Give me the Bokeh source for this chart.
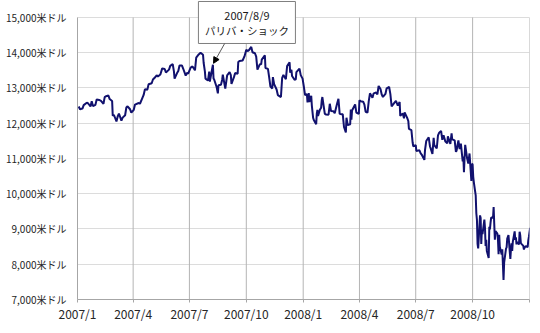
import pandas as pd
from bokeh.plotting import figure
from bokeh.models import FixedTicker, Label, Arrow, NormalHead, ColumnDataSource, Range1d
from bokeh.embed import file_html
from bokeh.resources import INLINE

# ---- data: DJIA closing values (米ドル) ----
dates = [
    "2007-01-03","2007-01-05","2007-01-09","2007-01-11","2007-01-16","2007-01-18","2007-01-22","2007-01-24",
    "2007-01-26","2007-01-30","2007-02-01","2007-02-05","2007-02-08","2007-02-12","2007-02-14","2007-02-16",
    "2007-02-20","2007-02-22","2007-02-26","2007-02-27","2007-03-01","2007-03-05","2007-03-07","2007-03-09",
    "2007-03-13","2007-03-15","2007-03-19","2007-03-21","2007-03-23","2007-03-27","2007-03-29","2007-04-02",
    "2007-04-04","2007-04-10","2007-04-12","2007-04-16","2007-04-18","2007-04-20","2007-04-24","2007-04-26",
    "2007-05-01","2007-05-03","2007-05-07","2007-05-09","2007-05-11","2007-05-15","2007-05-18","2007-05-22",
    "2007-05-24","2007-05-29","2007-05-31","2007-06-04","2007-06-06","2007-06-07","2007-06-11","2007-06-13",
    "2007-06-15","2007-06-19","2007-06-21","2007-06-25","2007-06-27","2007-06-29","2007-07-03","2007-07-06",
    "2007-07-10","2007-07-12","2007-07-16","2007-07-19","2007-07-23","2007-07-24","2007-07-26","2007-07-27",
    "2007-07-31","2007-08-02","2007-08-03","2007-08-06","2007-08-08","2007-08-09","2007-08-10","2007-08-14",
    "2007-08-16","2007-08-17","2007-08-21","2007-08-23","2007-08-24","2007-08-28","2007-08-31","2007-09-04",
    "2007-09-06","2007-09-07","2007-09-11","2007-09-13","2007-09-17","2007-09-18","2007-09-20","2007-09-25",
    "2007-09-28","2007-10-01","2007-10-03","2007-10-05","2007-10-09","2007-10-11","2007-10-15","2007-10-17",
    "2007-10-19","2007-10-23","2007-10-25","2007-10-26","2007-10-31","2007-11-01","2007-11-05","2007-11-07",
    "2007-11-09","2007-11-12","2007-11-13","2007-11-15","2007-11-19","2007-11-21","2007-11-26","2007-11-28",
    "2007-11-30","2007-12-04","2007-12-06","2007-12-10","2007-12-11","2007-12-13","2007-12-14","2007-12-18",
    "2007-12-20","2007-12-21","2007-12-26","2007-12-28","2007-12-31",
    "2008-01-02","2008-01-04","2008-01-07","2008-01-08","2008-01-10","2008-01-11","2008-01-14","2008-01-15",
    "2008-01-17","2008-01-18","2008-01-22","2008-01-23","2008-01-24","2008-01-25","2008-01-28","2008-01-30",
    "2008-01-31","2008-02-01","2008-02-05","2008-02-07","2008-02-11","2008-02-13","2008-02-15","2008-02-19",
    "2008-02-21","2008-02-25","2008-02-27","2008-02-29","2008-03-03","2008-03-05","2008-03-07","2008-03-10",
    "2008-03-11","2008-03-13","2008-03-14","2008-03-17","2008-03-18","2008-03-19","2008-03-20","2008-03-25",
    "2008-03-27","2008-03-31","2008-04-01","2008-04-03","2008-04-07","2008-04-09","2008-04-11","2008-04-14",
    "2008-04-16","2008-04-18","2008-04-22","2008-04-24","2008-04-28","2008-04-30","2008-05-02","2008-05-05",
    "2008-05-07","2008-05-09","2008-05-13","2008-05-15","2008-05-19","2008-05-21","2008-05-23","2008-05-28",
    "2008-05-30","2008-06-02","2008-06-05","2008-06-06","2008-06-10","2008-06-12","2008-06-13","2008-06-17",
    "2008-06-19","2008-06-20","2008-06-24","2008-06-26","2008-06-27","2008-07-01","2008-07-02","2008-07-07",
    "2008-07-09","2008-07-11","2008-07-15","2008-07-16","2008-07-18","2008-07-22","2008-07-24","2008-07-28",
    "2008-07-30","2008-07-31","2008-08-04","2008-08-06","2008-08-08","2008-08-11","2008-08-13","2008-08-15",
    "2008-08-18","2008-08-21","2008-08-22","2008-08-26","2008-08-28","2008-08-29","2008-09-02","2008-09-04",
    "2008-09-05","2008-09-08","2008-09-10","2008-09-12","2008-09-15","2008-09-16","2008-09-17","2008-09-18",
    "2008-09-19","2008-09-22","2008-09-24","2008-09-26","2008-09-29","2008-09-30","2008-10-01","2008-10-02",
    "2008-10-03","2008-10-06","2008-10-07","2008-10-08","2008-10-09","2008-10-10","2008-10-13","2008-10-14",
    "2008-10-15","2008-10-16","2008-10-17","2008-10-20","2008-10-21","2008-10-22","2008-10-23","2008-10-24",
    "2008-10-27","2008-10-28","2008-10-29","2008-10-30","2008-10-31","2008-11-03","2008-11-04","2008-11-05",
    "2008-11-06","2008-11-07","2008-11-10","2008-11-11","2008-11-12","2008-11-13","2008-11-14","2008-11-17",
    "2008-11-18","2008-11-19","2008-11-20","2008-11-21","2008-11-24","2008-11-25","2008-11-26","2008-11-28",
    "2008-12-01","2008-12-02","2008-12-03","2008-12-04","2008-12-05","2008-12-08","2008-12-09","2008-12-10",
    "2008-12-11","2008-12-12","2008-12-15","2008-12-16","2008-12-17","2008-12-18","2008-12-19","2008-12-22",
    "2008-12-23","2008-12-24","2008-12-26","2008-12-29","2008-12-30","2008-12-31","2009-01-02",
]
values = [
    12474, 12398, 12416, 12514, 12582, 12567, 12477, 12621,
    12487, 12523, 12673, 12661, 12637, 12552, 12741, 12768,
    12786, 12686, 12633, 12216, 12234, 12050, 12192, 12276,
    12075, 12159, 12226, 12447, 12481, 12397, 12300, 12382,
    12530, 12573, 12553, 12720, 12803, 12961, 12953, 13105,
    13136, 13241, 13312, 13362, 13327, 13383, 13556, 13539,
    13441, 13521, 13627, 13676, 13462, 13266, 13424, 13482,
    13639, 13636, 13545, 13352, 13428, 13409, 13577, 13611,
    13502, 13861, 13951, 14000, 13943, 13716, 13473, 13265,
    13212, 13463, 13182, 13468, 13658, 13270, 13240, 13028,
    12846, 13079, 13091, 13236, 13379, 12983, 13358, 13448,
    13363, 13113, 13308, 13424, 13403, 13739, 13767, 13779,
    13896, 14087, 14047, 14066, 14165, 14015, 13985, 13892,
    13522, 13676, 13671, 13806, 13930, 13567, 13543, 13300,
    13042, 12987, 13307, 13111, 12958, 12799, 12743, 13289,
    13372, 13249, 13620, 13727, 13433, 13518, 13339, 13232,
    13245, 13450, 13551, 13366, 13265,
    13044, 12800, 12827, 12589, 12853, 12606, 12778, 12501,
    12159, 12100, 11971, 12271, 12379, 12207, 12384, 12442,
    12650, 12743, 12265, 12248, 12241, 12552, 12348, 12338,
    12284, 12570, 12694, 12266, 12258, 12254, 11894, 11740,
    12156, 11951, 11952, 11972, 12392, 12099, 12361, 12532,
    12302, 12263, 12654, 12626, 12612, 12527, 12325, 12302,
    12619, 12849, 12721, 12848, 12870, 12820, 13058, 12969,
    12814, 12745, 12832, 12992, 13028, 12825, 12480, 12594,
    12638, 12503, 12604, 12210, 12280, 12141, 12307, 12160,
    12063, 11843, 11807, 11453, 11347, 11382, 11215, 11231,
    11147, 11100, 10962, 11239, 11496, 11602, 11349, 11131,
    11584, 11378, 11284, 11656, 11734, 11783, 11532, 11659,
    11479, 11430, 11628, 11413, 11715, 11544, 11516, 11188,
    11220, 11510, 11268, 11421, 10917, 11059, 10609, 11020,
    11388, 11015, 10854, 11143, 10365, 10850, 10831, 10482,
    10325, 9955, 9447, 9258, 8579, 8451, 9387, 9310,
    8577, 8979, 8852, 9265, 9033, 8519, 8691, 8378,
    8175, 9065, 8990, 9180, 9325, 9319, 9625, 9139,
    8695, 8943, 8870, 8693, 8282, 8835, 8497, 8273,
    8424, 7997, 7552, 8046, 8443, 8479, 8726, 8829,
    8149, 8419, 8591, 8376, 8635, 8934, 8691, 8761,
    8565, 8629, 8564, 8924, 8824, 8604, 8579, 8519,
    8419, 8468, 8515, 8483, 8668, 8776, 9034,
]

x_tick_dates = ["2007-01-01", "2007-04-01", "2007-07-01", "2007-10-01",
                "2008-01-01", "2008-04-01", "2008-07-01", "2008-10-01", "2009-01-01"]
x_tick_labels = ["2007/1", "2007/4", "2007/7", "2007/10",
                 "2008/1", "2008/4", "2008/7", "2008/10", ""]
y_ticks = [7000, 8000, 9000, 10000, 11000, 12000, 13000, 14000, 15000]
y_tick_labels = ["7,000米ドル", "8,000米ドル", "9,000米ドル", "10,000米ドル", "11,000米ドル",
                 "12,000米ドル", "13,000米ドル", "14,000米ドル", "15,000米ドル"]

# callout: arrow tip, arrow tail (box bottom) and box centre, in data coordinates
annot_date = "2007-08-09"
annot_value = 13700
annot_tail = ("2007-08-27", 14262)
annot_box = ("2007-10-02", 14858)
annot_lines = ["2007/8/9", "パリバ・ショック"]


def ms(d):
    return int(pd.Timestamp(d).value // 10**6)


FONT = "Noto Sans CJK JP"
GRID_V = "#b4b4b4"

src = ColumnDataSource(dict(date=pd.to_datetime(dates), value=values))

# frame reaches the top of the canvas so the callout box is not clipped;
# the empty headroom above 15,000 is 17px (= 482 units at 35.25px/1000)
p = figure(width=540, height=333, x_axis_type="datetime",
           output_backend="svg", toolbar_location=None,
           x_range=Range1d(ms("2007-01-01"), ms("2009-01-01")),
           y_range=Range1d(7000, 15482),
           min_border_left=77, min_border_right=11, min_border_top=0, min_border_bottom=34)
p.outline_line_color = None
p.background_fill_color = "white"
p.border_fill_color = "white"

# vertical grid lines limited to 7,000-15,000
xt = [ms(d) for d in x_tick_dates]
p.segment(x0=xt, y0=[y_ticks[0]] * len(xt), x1=xt, y1=[y_ticks[-1]] * len(xt),
          line_color=GRID_V, line_width=1)
p.xgrid.grid_line_color = None
p.ygrid.grid_line_color = "#dcdcdc"

p.line("date", "value", source=src, line_color="#11116e", line_width=2)

# axes
p.xaxis.ticker = FixedTicker(ticks=xt, minor_ticks=[])
p.xaxis.major_label_overrides = {t: l for t, l in zip(xt, x_tick_labels)}
p.yaxis.ticker = FixedTicker(ticks=y_ticks, minor_ticks=[])
p.yaxis.major_label_overrides = {t: l for t, l in zip(y_ticks, y_tick_labels)}
p.yaxis.bounds = (y_ticks[0], y_ticks[-1])

for ax in (p.xaxis[0], p.yaxis[0]):
    ax.axis_line_color = "#a6a6a6"
    ax.major_tick_line_color = "#a6a6a6"
    ax.minor_tick_line_color = None
    ax.major_tick_in = 0
    ax.major_label_text_font = FONT
    ax.major_label_text_color = "#262626"

p.xaxis.major_tick_out = 3
p.xaxis.major_label_standoff = 2
p.xaxis.major_label_text_font_size = "12px"
p.yaxis.major_tick_out = 0
p.yaxis.major_label_standoff = 11
p.yaxis.major_label_text_font_size = "10px"

# callout arrow
p.add_layout(Arrow(end=NormalHead(size=6, fill_color="black", line_color="black"),
                   x_start=ms(annot_tail[0]), y_start=annot_tail[1],
                   x_end=ms(annot_date), y_end=annot_value,
                   line_color="#595959", line_width=1))

# callout box
bx, by = ms(annot_box[0]), annot_box[1]
p.rect(x=[bx], y=[by], width=97, height=42,
       width_units="screen", height_units="screen",
       fill_color="white", line_color="#7f7f7f", line_width=1)
p.add_layout(Label(x=bx, y=by, y_offset=7, text=annot_lines[0],
                   text_align="center", text_baseline="middle",
                   text_font=FONT, text_font_size="11px", text_color="#1a1a1a"))
p.add_layout(Label(x=bx, y=by, y_offset=-8, text=annot_lines[1],
                   text_align="center", text_baseline="middle",
                   text_font=FONT, text_font_size="10.5px", text_color="#1a1a1a"))

open("out.html", "w").write(file_html(p, INLINE))
